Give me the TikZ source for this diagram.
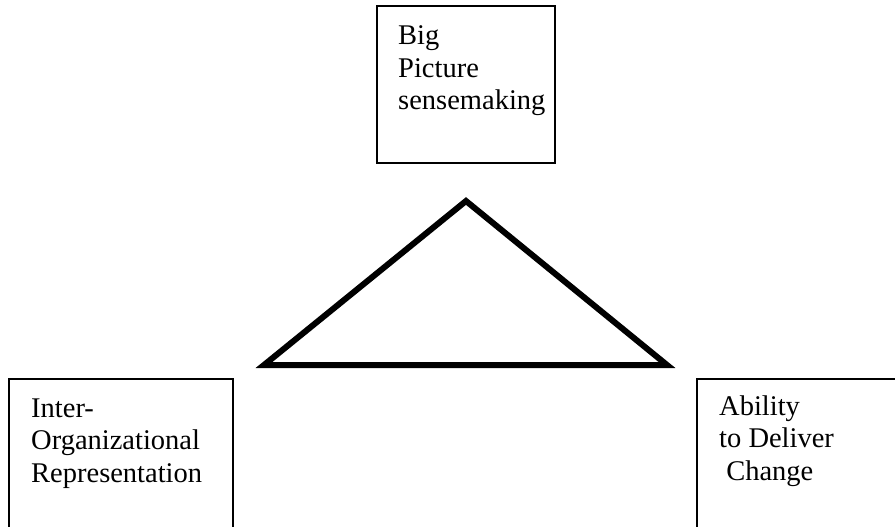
\documentclass[tikz,border=0pt]{standalone}
\usepackage{fontspec}
\setmainfont{Liberation Serif}
\begin{document}
\begin{tikzpicture}[x=1pt,y=-1pt,
  boxline/.style={line width=1.5pt},
  lbl/.style={anchor=base west,inner sep=0pt,align=left,font=\fontsize{28.5}{32.5}\selectfont}]
\useasboundingbox (0,0) rectangle (895,527);
% top box
\draw[boxline] (377,6) rectangle (555,163);
\node[lbl] (top) at (398,110) {Big\\Picture\\sensemaking};
% left box (open at bottom)
\draw[boxline] (9,540) -- (9,379) -- (233,379) -- (233,540);
\node[lbl] (left) at (31,482) {Inter-\\Organizational\\Representation};
% right box
\draw[boxline] (697,540) -- (697,379) -- (900,379);
\node[lbl] (right) at (719,480) {Ability\\to Deliver\\\ Change};
% triangle
\coordinate (a) at (466,201);
\coordinate (b) at (264,365);
\coordinate (c) at (667,365);
\draw[line width=6pt,line join=miter] (a) -- (b) -- (c) -- cycle;
\end{tikzpicture}
\end{document}
